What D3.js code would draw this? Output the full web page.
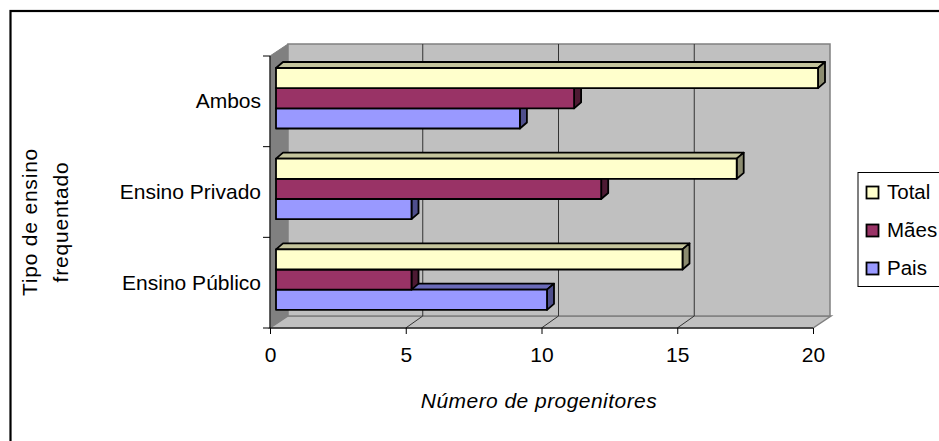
<!DOCTYPE html>
<meta charset="utf-8">
<style>
  body { margin: 0; background: #fff; }
  svg { display: block; }
  text { font-family: "Liberation Sans", Arial, sans-serif; font-size: 21px; fill: #000; }
  .bar path { stroke: #000; stroke-width: 1.8px; stroke-linejoin: round; }
</style>
<svg width="939" height="441"></svg>
<script src="https://d3js.org/d3.v7.min.js"></script>
<script>
var categories = ["Ambos", "Ensino Privado", "Ensino Público"];
var seriesNames = ["Total", "Mães", "Pais"];
var total = [20, 17, 15];
var maes = [11, 12, 5];
var pais = [9, 5, 10];
var xTicks = [0, 5, 10, 15, 20];
var colors = ["#ffffcc", "#993366", "#9999ff"];
var tops = ["#c4c49c", "#6e2549", "#6a6ab8"];
var sides = ["#8c8c70", "#4d1a33", "#4f4f8c"];
var valuesBySeries = [total, maes, pais];

var svg = d3.select("svg");

// chart frame
svg.append("rect").attr("x", 10.5).attr("y", 11).attr("width", 940).attr("height", 450)
   .attr("fill", "#fff").attr("stroke", "#000").attr("stroke-width", 2.2);

var x = d3.scaleLinear().domain([0, 20]).range([270, 813]);
var y = d3.scaleBand().domain(categories).range([56, 328]);
var inner = d3.scaleBand().domain(seriesNames).range([12, 72.5]);

// depth of the walls and of the bars
var wallDx = 18, wallDy = -12;
var barDx = 7, barDy = -6, barX0 = 6;

var x0 = x(0), x1 = x(20), yT = y.range()[0], yB = y.range()[1];

// floor and side wall
svg.append("path")
   .attr("d", `M${x0},${yT}L${x0 + wallDx},${yT + wallDy}V${yB + wallDy}L${x0},${yB}Z`)
   .attr("fill", "#808080").attr("stroke", "#808080");
svg.append("path")
   .attr("d", `M${x0},${yB}L${x0 + wallDx},${yB + wallDy}H${x1 + wallDx}L${x1},${yB}Z`)
   .attr("fill", "#c0c0c0").attr("stroke", "#808080").attr("stroke-width", 1.5);
svg.append("rect")
   .attr("x", x0 + wallDx).attr("y", yT + wallDy)
   .attr("width", x1 - x0 - 1).attr("height", yB - yT)
   .attr("fill", "#c0c0c0").attr("stroke", "#808080").attr("stroke-width", 1.5);

// gridlines
svg.append("g").selectAll("path")
   .data(xTicks.slice(1, -1))
   .enter().append("path")
   .attr("d", d => `M${x(d) + wallDx - 1},${yT + wallDy}V${yB + wallDy}L${x(d)},${yB}`)
   .attr("fill", "none").attr("stroke", "#333").attr("stroke-width", 1);

// axes
var xAxis = d3.axisBottom(x).tickValues(xTicks).tickSize(6).tickPadding(13).tickFormat(d3.format("d"));
var xg = svg.append("g").attr("transform", `translate(0,${yB})`).call(xAxis);
xg.selectAll("text").style("font-size", "21px").style("font-family", '"Liberation Sans", Arial, sans-serif');
xg.select(".domain").attr("d", `M${x0},0H${x1}`).attr("stroke", "#000");
xg.selectAll(".tick line").attr("stroke", "#000");

var yg = svg.append("g").attr("transform", `translate(${x0},0)`);
yg.append("line").attr("y1", yT).attr("y2", yB).attr("stroke", "#000");
yg.selectAll(".t").data(d3.range(0, 4)).enter().append("line")
  .attr("x1", -7).attr("x2", 0)
  .attr("y1", d => yT + d * y.step()).attr("y2", d => yT + d * y.step())
  .attr("stroke", "#000");
yg.selectAll("text").data(categories).enter().append("text")
  .attr("x", -9).attr("y", d => y(d) + y.bandwidth() / 2 - 0.5)
  .attr("dy", "0.35em").attr("text-anchor", "end")
  .text(d => d);

// bars, bottom series first so the upper bar front hides its top face
var bx = d3.scaleLinear().domain([0, 20]).range([x0 + barX0, 818]);
var bars = svg.append("g").attr("class", "bar");
categories.slice().reverse().forEach(function(cat) {
  var c = categories.indexOf(cat);
  seriesNames.slice().reverse().forEach(function(s) {
    var i = seriesNames.indexOf(s);
    var v = valuesBySeries[i][c];
    var yy = y(cat) + inner(s), h = inner.bandwidth(), l = bx(0), r = bx(v);
    var g = bars.append("g");
    g.append("path").attr("fill", tops[i])
     .attr("d", `M${l},${yy}L${l + barDx},${yy + barDy}H${r + barDx}L${r},${yy}Z`);
    g.append("path").attr("fill", sides[i])
     .attr("d", `M${r},${yy}L${r + barDx},${yy + barDy}V${yy + h + barDy}L${r},${yy + h}Z`);
    g.append("path").attr("fill", colors[i])
     .attr("d", `M${l},${yy}H${r}V${yy + h}H${l}Z`);
  });
});

// axis titles
svg.append("text").attr("text-anchor", "middle")
   .attr("transform", "translate(37,222) rotate(-90)")
   .style("letter-spacing", "0.8px")
   .selectAll("tspan").data(["Tipo de ensino", "frequentado"]).enter().append("tspan")
   .attr("x", 0).attr("y", (d, i) => i * 31).text(d => d);
svg.append("text").attr("x", 539).attr("y", 408).attr("text-anchor", "middle")
   .style("font-style", "italic").style("letter-spacing", "0.45px").text("Número de progenitores");

// legend
var lg = svg.append("g");
lg.append("rect").attr("x", 858).attr("y", 172.5).attr("width", 90).attr("height", 114)
  .attr("fill", "#fff").attr("stroke", "#000");
var ly = d3.scalePoint().domain(seriesNames).range([192.5, 268.5]);
lg.selectAll("rect.k").data(seriesNames).enter().append("rect").attr("class", "k")
  .attr("x", 866.5).attr("y", d => ly(d) - 6).attr("width", 12).attr("height", 12)
  .attr("fill", (d, i) => colors[i]).attr("stroke", "#000").attr("stroke-width", 1.8);
lg.selectAll("text").data(seriesNames).enter().append("text")
  .attr("x", 887).attr("y", d => ly(d) - 0.5).attr("dy", "0.35em").style("font-size", "20.5px").text(d => d);
</script>
